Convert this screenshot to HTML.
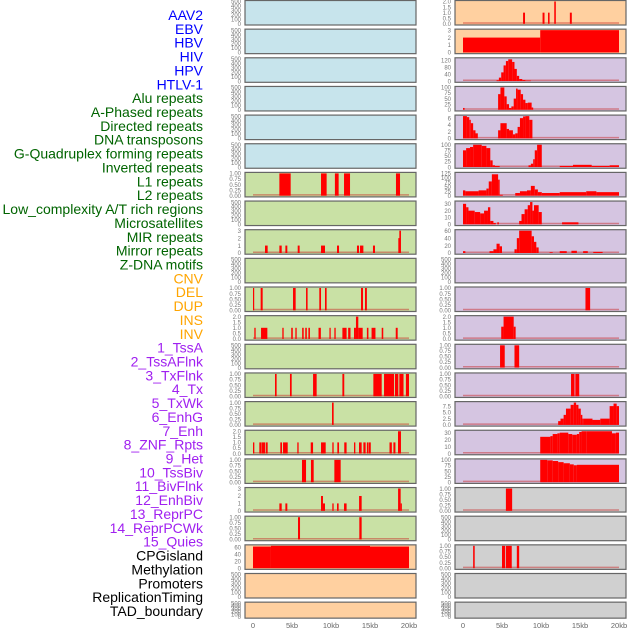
<!DOCTYPE html>
<html><head><meta charset="utf-8">
<style>
html,body{margin:0;padding:0;background:#fff;}
#wrap{position:relative;width:630px;height:630px;overflow:hidden;}
svg{position:absolute;left:0;top:0;}
</style></head>
<body>
<div id="wrap">
<svg id="chart" width="630" height="630" xmlns="http://www.w3.org/2000/svg"></svg>
</div>
<script>
// ---- row labels ----
const labelNames = ["AAV2","EBV","HBV","HIV","HPV","HTLV-1","Alu repeats","A-Phased repeats","Directed repeats","DNA transposons","G-Quadruplex forming repeats","Inverted repeats","L1 repeats","L2 repeats","Low_complexity A/T rich regions","Microsatellites","MIR repeats","Mirror repeats","Z-DNA motifs","CNV","DEL","DUP","INS","INV","1_TssA","2_TssAFlnk","3_TxFlnk","4_Tx","5_TxWk","6_EnhG","7_Enh","8_ZNF_Rpts","9_Het","10_TssBiv","11_BivFlnk","12_EnhBiv","13_ReprPC","14_ReprPCWk","15_Quies","CPGisland","Methylation","Promoters","ReplicationTiming","TAD_boundary"];
const labelGroups = [6,13,5,15,5];
const groupColors = ["#0000ff","#006400","#ffa500","#a020f0","#000000"];

// ---- x axis ----
const xTickValues = [0,5,10,15,20];
const xTickLabels = ["0","5kb","10kb","15kb","20kb"];

// ---- tick sets ----
const ticksEmpty = [0,100,200,300,400,500];
const ticksUnit = [0,0.25,0.5,0.75,1];
const ticks2 = [0,0.5,1,1.5,2];
const ticks3 = [0,1,2,3];

// ---- series (segments: [startKb, endKb, value]) ----
const segAAV2 = [[7.7,7.95,1],[10.2,10.45,1],[10.9,11.1,1],[11.7,11.9,2],[13.7,13.95,1]];
const segEBV = [[0,9.9,2],[9.9,20,3]];
const segHIV = [[4.3,4.6,5],[4.6,4.9,20],[4.9,5.2,50],[5.2,5.5,90],[5.5,5.8,115],[5.8,6.3,125],[6.3,6.6,110],[6.6,6.9,70],[6.9,7.2,30],[7.2,7.6,12],[7.6,8.0,6],[8.0,8.7,3]];
const segHPV = [[0,0.2,8],[4.5,4.8,70],[4.8,5.3,100],[5.3,5.6,60],[5.6,5.9,25],[5.9,6.2,8],[6.2,6.5,15],[6.5,6.8,50],[6.8,7.0,95],[7.0,7.4,90],[7.4,7.7,70],[7.7,8.0,45],[8.0,8.3,30],[8.3,8.8,32],[8.8,9.0,10]];
const segR5 = [[0,0.5,7],[0.5,0.8,6.3],[0.8,1.0,5.5],[1.0,1.3,4.5],[1.3,1.6,2.4],[1.6,1.9,1.5],[4.5,4.8,2.4],[4.8,5.6,4.5],[5.6,5.9,2.8],[5.9,6.4,2.4],[6.4,6.7,1.2],[6.7,7.0,1.5],[7.0,7.3,3.4],[7.3,7.7,6],[7.7,8.0,6.5],[8.0,8.5,7],[8.5,8.9,5.5]];
const segR6 = [[0,0.4,75],[0.4,0.9,85],[0.9,1.3,90],[1.3,2.4,100],[2.4,3.0,95],[3.0,3.5,85],[3.5,3.8,30],[3.8,4.1,8],[4.1,4.7,5],[8.4,8.7,8],[8.7,9.0,15],[9.0,9.2,35],[9.2,9.5,75],[9.5,10.1,100],[12.4,14.1,5],[14.1,16.5,10],[16.5,18.8,5],[18.8,20,8]];
const segR7 = [[0,0.3,30],[0.3,2.0,25],[2.0,3.0,30],[3.0,3.3,40],[3.3,3.7,80],[3.7,4.5,120],[4.5,4.7,90],[4.7,5.1,5],[6.7,7.3,15],[7.3,8.2,25],[8.2,8.7,30],[8.7,9.2,55],[9.2,9.6,35],[9.6,10.1,20],[10.1,12.4,15],[12.4,15.8,20],[15.8,17.1,25],[17.1,20,20]];
const segR8 = [[0,0.4,30],[0.4,0.7,25],[0.7,1.5,20],[1.5,2.2,18],[2.2,2.7,16],[2.7,3.2,20],[3.2,3.5,25],[3.5,3.9,5],[3.9,4.2,2],[4.4,4.6,3],[7.2,7.5,5],[7.5,7.9,15],[7.9,8.3,22],[8.3,8.6,28],[8.6,8.9,35],[8.9,9.1,20],[9.1,9.7,28],[9.7,10.1,18],[12.7,14.8,3]];
const segR9 = [[0,0.3,5],[3.4,3.9,5],[3.9,4.3,10],[4.3,4.7,25],[4.7,5.0,18],[6.6,6.9,10],[6.9,7.2,40],[7.2,8.8,60],[8.8,9.1,45],[9.1,9.4,30],[9.4,9.7,15],[11.1,11.5,2],[12.4,13.3,5],[13.9,14.6,6],[15.4,16.0,5],[16.7,17.9,3]];
const segR11 = [[15.7,16.3,1]];
const segR12 = [[4.9,5.2,1.1],[5.2,6.5,2],[6.5,6.75,1.1]];
const segR13 = [[4.75,5.35,1],[6.6,7.2,1]];
const segR14 = [[13.85,14.3,1],[14.4,14.9,1]];
const segR15 = [[12.2,12.5,1.5],[12.5,12.9,2.5],[12.9,13.2,4],[13.2,13.8,6.5],[13.8,14.2,8],[14.2,14.5,9],[14.5,14.8,8],[14.8,15.1,6.5],[15.1,15.3,4],[15.3,15.5,2.5],[15.5,16.6,2.5],[16.6,17.6,2],[17.6,18.8,2.5],[18.8,19.3,7.5],[19.3,19.7,8.5],[19.7,20,7.5]];
const segR16 = [[9.9,11.2,24],[11.2,11.5,25],[11.5,12.1,28],[12.1,12.4,29],[12.4,13.5,30],[13.5,14.0,28],[14.0,14.6,27],[14.6,14.9,28],[14.9,15.2,31],[15.2,15.8,33],[15.8,17.5,33],[17.5,19.1,34],[19.1,19.6,29],[19.6,20,30]];
const segR17 = [[9.9,10.8,100],[10.8,11.5,98],[11.5,12.2,95],[12.2,12.9,90],[12.9,13.7,85],[13.7,14.2,80],[14.2,14.6,76],[14.6,20,78]];
const segR18 = [[5.5,6.3,1]];
const segR20 = [[1.3,1.5,1],[5.0,5.4,1],[5.5,6.25,1],[6.9,7.2,1]];

const segL7 = [[3.38,4.83,1],[8.72,9.44,1],[10.5,10.98,1],[11.67,12.44,1],[18.33,18.85,1]];
const segL9 = [[1.54,1.88,1],[3.38,3.68,1],[4.15,4.4,1],[5.73,5.98,1],[8.72,9.23,1],[10.77,11.03,1],[13.33,13.59,1],[13.72,14.15,1],[15.38,15.64,1],[18.63,18.76,2],[18.76,18.97,3]];
const segL11 = [[0,0.15,1],[0.98,1.24,1],[5.13,5.47,1],[6.8,7.0,1],[8.5,8.72,1],[9.23,9.44,1],[13.85,14.1,1],[14.36,14.6,1]];
const segL12 = [[0.17,0.34,1],[1.03,1.84,1],[3.76,3.93,1],[4.9,5.1,1],[5.43,5.6,1],[6.3,6.5,1],[6.7,6.9,1],[7.1,7.3,1],[8.4,8.7,1],[9.8,9.96,1],[10.43,10.6,1],[11.46,12.0,1],[12.2,12.5,1],[12.95,13.2,1],[13.2,13.5,2],[13.5,14.06,1],[14.6,14.8,1],[15.2,15.7,1],[16.5,16.7,1],[18.3,18.55,1]];
const segL14 = [[2.82,3.03,1],[4.74,4.96,1],[7.7,8.16,1],[11.46,11.7,1],[15.43,16.5,1],[16.8,18.08,1],[18.2,18.63,1],[18.76,19.3,1],[19.6,20,1]];
const segL15 = [[10.13,10.34,1]];
const segL16 = [[0,0.17,1],[0.81,1.11,1],[1.15,1.58,1],[1.67,1.88,1],[3.5,3.72,1],[3.85,4.45,1],[5.68,5.85,1],[7.4,7.7,1],[8.72,9.32,1],[10.17,10.34,1],[10.81,11.03,1],[11.7,12.0,1],[12.95,13.12,1],[13.59,13.93,1],[14.15,14.44,1],[14.6,14.8,1],[14.85,15.1,1],[17.5,17.8,1],[18.0,18.26,1],[18.59,18.97,2]];
const segL17 = [[6.28,6.8,1],[7.43,7.78,1],[10.43,11.24,1]];
const segL18 = [[3.38,3.68,1],[4.15,4.4,1],[8.72,8.97,2],[8.97,9.23,1],[10.17,10.34,1],[10.77,10.98,1],[11.67,12.0,1],[13.6,13.93,2],[18.6,18.93,3],[18.93,19.06,1]];
const segL19 = [[5.77,6.03,1],[13.63,13.93,1]];
const segL20 = [[0,2.3,62],[2.3,15,64],[15,20,62]];

const BLUE="#c7e4ec", GREEN="#c9e1a5", ORANGE="#ffd0a0", PURPLE="#d5c5e1", GREY="#d0d0d0";
const panels = [
 [0,0,BLUE,500,ticksEmpty,null,0],[0,1,BLUE,500,ticksEmpty,null,0],[0,2,BLUE,500,ticksEmpty,null,0],
 [0,3,BLUE,500,ticksEmpty,null,0],[0,4,BLUE,500,ticksEmpty,null,0],[0,5,BLUE,500,ticksEmpty,null,0],
 [0,6,GREEN,1,ticksUnit,segL7,2],[0,7,GREEN,500,ticksEmpty,null,0],[0,8,GREEN,3,ticks3,segL9,0],
 [0,9,GREEN,500,ticksEmpty,null,0],[0,10,GREEN,1,ticksUnit,segL11,2],[0,11,GREEN,2,ticks2,segL12,1],
 [0,12,GREEN,500,ticksEmpty,null,0],[0,13,GREEN,1,ticksUnit,segL14,2],[0,14,GREEN,1,ticksUnit,segL15,2],
 [0,15,GREEN,2,ticks2,segL16,1],[0,16,GREEN,1,ticksUnit,segL17,2],[0,17,GREEN,3,ticks3,segL18,0],
 [0,18,GREEN,1,ticksUnit,segL19,2],[0,19,ORANGE,64,[0,20,40,60],segL20,0],[0,20,ORANGE,500,ticksEmpty,null,0],
 [0,21,ORANGE,500,ticksEmpty,null,0],
 [1,0,ORANGE,2,ticks2,segAAV2,1],[1,1,ORANGE,3,ticks3,segEBV,0],[1,2,PURPLE,128,[0,40,80,120],segHIV,0],
 [1,3,PURPLE,100,[0,25,50,75,100],segHPV,0],[1,4,PURPLE,6.6,[0,2,4,6],segR5,0],[1,5,PURPLE,100,[0,25,50,75,100],segR6,0],
 [1,6,PURPLE,125,[0,25,50,75,100,125],segR7,0],[1,7,PURPLE,32.6,[0,10,20,30],segR8,0],[1,8,PURPLE,60,[0,20,40,60],segR9,0],
 [1,9,PURPLE,500,ticksEmpty,null,0],[1,10,PURPLE,1,ticksUnit,segR11,2],[1,11,PURPLE,2,ticks2,segR12,1],
 [1,12,PURPLE,1,ticksUnit,segR13,2],[1,13,PURPLE,1,ticksUnit,segR14,2],[1,14,PURPLE,8.9,[0,2.5,5,7.5],segR15,1],
 [1,15,PURPLE,32,[0,10,20,30],segR16,0],[1,16,PURPLE,100,[0,25,50,75,100],segR17,0],[1,17,GREY,1,ticksUnit,segR18,2],
 [1,18,GREY,500,ticksEmpty,null,0],[1,19,GREY,1,ticksUnit,segR20,2],[1,20,GREY,500,ticksEmpty,null,0],
 [1,21,GREY,500,ticksEmpty,null,0]
];

const NS="http://www.w3.org/2000/svg";
const svg=document.getElementById('chart');
function mk(tag,attrs,parent){const e=document.createElementNS(NS,tag);for(const k in attrs)e.setAttribute(k,attrs[k]);(parent||svg).appendChild(e);return e;}
const colX=[245,455], colW=171;
function xScale(col,kb){return colX[col]+8+kb*7.8;}
function rowTop(r){return 0.5+r*28.65;}
function rowH(r){return r===21?16:24.5;}

let li=0;
labelGroups.forEach((n,g)=>{for(let k=0;k<n;k++){const name=labelNames[li];
 const t=mk('text',{x:203,y:15+li*13.86+5,'text-anchor':'end','font-family':'Liberation Sans, sans-serif','font-size':'14',fill:groupColors[g]});
 t.textContent=name;
 
 
 li++;}});

panels.forEach((p,i)=>{
 const [col,row,bg,yMax,ticks,segs,dec]=p;
 const top=rowTop(row), h=rowH(row);
 const g=mk('g',{});
 
 
 const x0=colX[col];
 mk('rect',{x:x0,y:top,width:colW,height:h,fill:bg,stroke:'#666','stroke-width':1.2},g);
 const zero=top+h-1.2, yt=top+1;
 const ys=v=>zero-(Math.min(v,yMax)/yMax)*(zero-yt);
 ticks.forEach(t=>{const tx=mk('text',{x:x0-4,y:ys(t)+2.2,'text-anchor':'end','font-family':'Liberation Sans, sans-serif','font-size':'6',fill:'#777'},g);
  tx.textContent=t.toFixed(dec);
  
  });
 if(segs){
  mk('line',{x1:xScale(col,0),x2:xScale(col,20),y1:zero-0.8,y2:zero-0.8,stroke:'rgba(200,30,30,0.45)','stroke-width':1.5},g);
  segs.forEach(s=>{const xa=xScale(col,s[0]),xb=xScale(col,s[1]);const y=ys(s[2]);
   const r=mk('rect',{x:xa,y:y,width:Math.max(1.2,xb-xa),height:zero-y,fill:'#ff0000'},g);
   
   });
 }
});

[0,1].forEach(col=>{xTickValues.forEach((v,i)=>{
 const t=mk('text',{x:xScale(col,v),y:628,'text-anchor':'middle','font-family':'Liberation Sans, sans-serif','font-size':'7.5',fill:'#666'});
 t.textContent=xTickLabels[i];
 
 });});
</script>
</body></html>
